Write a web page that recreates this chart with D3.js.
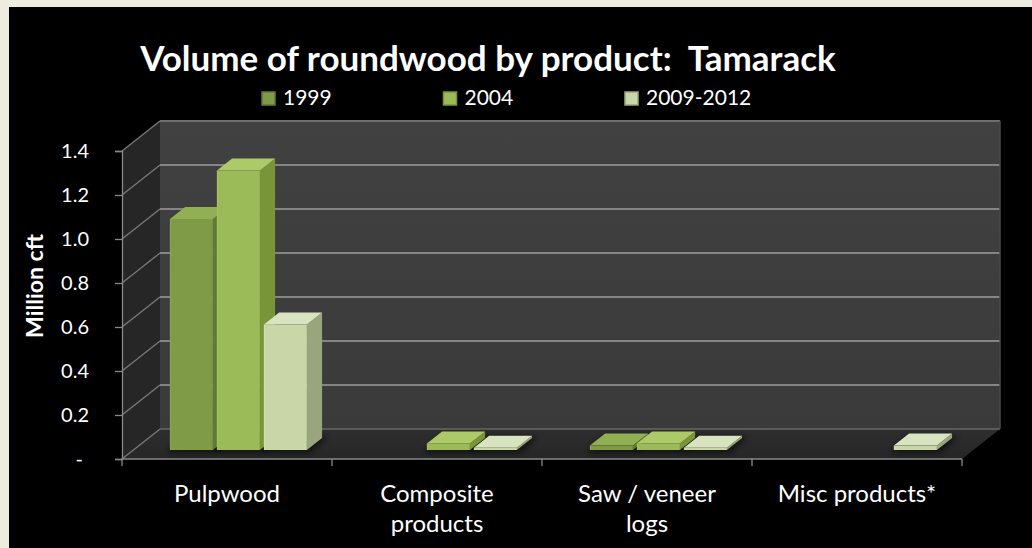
<!DOCTYPE html>
<html>
<head>
<meta charset="utf-8">
<script src="https://cdn.jsdelivr.net/npm/d3@7"></script>
<style>
  html, body { margin: 0; padding: 0; background: #eeebe0; }
  svg { display: block; }
</style>
</head>
<body>
<svg id="chart" width="1032" height="548"></svg>
<script>
// Roundwood volume (million cubic feet) for tamarack, by product and survey period
const categories = ["Pulpwood", "Composite\nproducts", "Saw / veneer\nlogs", "Misc products*"];
const seriesNames = ["1999", "2004", "2009-2012"];
const values1999 = [1.05, 0.00, 0.02, 0.00];
const values2004 = [1.27, 0.03, 0.03, 0.00];
const values2009 = [0.57, 0.01, 0.01, 0.02];
const yTicks = [0, 0.2, 0.4, 0.6, 0.8, 1.0, 1.2, 1.4];
const yTickLabels = ["-", "0.2", "0.4", "0.6", "0.8", "1.0", "1.2", "1.4"];

const seriesValues = [values1999, values2004, values2009];
const seriesColors = [
  { front: "#7f9b47", side: "#617935", top: "#91b054" },
  { front: "#9bbb59", side: "#789638", top: "#acca68" },
  { front: "#c9d7a8", side: "#98a57d", top: "#d8e3bf" }
];

const svg = d3.select("#chart");
const W = 1032, H = 548;
const FONT = "Lato, 'Open Sans', 'DejaVu Sans', sans-serif";

// black panel
svg.append("rect").attr("x", 9).attr("y", 7).attr("width", W - 9).attr("height", H - 7).attr("fill", "#000");

// Scales (front plane of the 3-D box)
const x = d3.scaleBand().domain(categories).range([122, 962]).paddingInner(0).paddingOuter(0);
const inner = d3.scaleBand().domain(seriesNames).range([0, x.bandwidth()])
  .paddingInner(0.085).paddingOuter(0.777);
const y = d3.scaleLinear().domain([0, 1.4]).range([459, 151]);

// depth of the box and where the bars sit inside it
const DX = 38, DY = -30;
const F0 = 0.3, F1 = 0.7;

const defs = svg.append("defs");
const wallGrad = defs.append("linearGradient").attr("id", "wall").attr("x1", 0).attr("y1", 0).attr("x2", 0).attr("y2", 1);
wallGrad.append("stop").attr("offset", 0).attr("stop-color", "#414141");
wallGrad.append("stop").attr("offset", 1).attr("stop-color", "#3a3a3a");
const floorGrad = defs.append("linearGradient").attr("id", "floor").attr("x1", 0).attr("y1", 0).attr("x2", 0).attr("y2", 1);
floorGrad.append("stop").attr("offset", 0).attr("stop-color", "#2e2e2e");
floorGrad.append("stop").attr("offset", 1).attr("stop-color", "#262626");
const shadow = defs.append("filter").attr("id", "shadow").attr("x", "-30%").attr("y", "-60%").attr("width", "160%").attr("height", "220%");
shadow.append("feGaussianBlur").attr("stdDeviation", 3);

const x0 = x.range()[0], x1 = x.range()[1];
const yTop = y(1.4), yBase = y(0);
const pts = a => a.map(p => p.join(",")).join(" ");

// back wall
svg.append("polygon")
  .attr("points", pts([[x0 + DX, yTop + DY], [x1 + DX, yTop + DY], [x1 + DX, yBase + DY], [x0 + DX, yBase + DY]]))
  .attr("fill", "url(#wall)");
// side wall
svg.append("polygon")
  .attr("points", pts([[x0, yTop], [x0 + DX, yTop + DY], [x0 + DX, yBase + DY], [x0, yBase]]))
  .attr("fill", "#262626");
// floor
svg.append("polygon")
  .attr("points", pts([[x0, yBase], [x1, yBase], [x1 + DX, yBase + DY], [x0 + DX, yBase + DY]]))
  .attr("fill", "url(#floor)");

// gridlines on back and side walls
const grid = svg.append("g").attr("stroke-width", 2).attr("fill", "none");
yTicks.forEach(v => {
  grid.append("line")
    .attr("x1", x0 + DX).attr("x2", x1 + DX)
    .attr("y1", y(v) + DY).attr("y2", y(v) + DY)
    .attr("stroke", v === 0 ? "#5a5a5a" : (v === 1.4 ? "#6e6e6e" : "#858585"));
  grid.append("line")
    .attr("x1", x0).attr("x2", x0 + DX)
    .attr("y1", y(v)).attr("y2", y(v) + DY)
    .attr("stroke", "#7a7a7a").attr("stroke-width", 1.3);
});
// right edge of the back wall
svg.append("line").attr("x1", x1 + DX).attr("x2", x1 + DX).attr("y1", yTop + DY).attr("y2", yBase + DY)
  .attr("stroke", "#4a4a4a").attr("stroke-width", 1.5);

// bars
const bars = [];
categories.forEach((cat, ci) => {
  seriesNames.forEach((s, si) => {
    const v = seriesValues[si][ci];
    if (v > 0) bars.push({ cat, s, si, v });
  });
});

const shadows = svg.append("g").attr("filter", "url(#shadow)");
bars.forEach(b => {
  const bx = x(b.cat) + inner(b.s), bw = inner.bandwidth();
  shadows.append("polygon")
    .attr("points", pts([
      [bx + F0 * DX - 4, yBase + F0 * DY + 3], [bx + bw + F0 * DX + 4, yBase + F0 * DY + 3],
      [bx + bw + F1 * DX + 6, yBase + F1 * DY - 2], [bx + F1 * DX - 2, yBase + F1 * DY - 2]]))
    .attr("fill", "#000").attr("opacity", 0.55);
});

const barG = svg.append("g");
bars.forEach(b => {
  const c = seriesColors[b.si];
  const bx = x(b.cat) + inner(b.s), bw = inner.bandwidth();
  const fx0 = bx + F0 * DX, fx1 = bx + bw + F0 * DX;
  const ft = y(b.v) + F0 * DY, fb = yBase + F0 * DY;
  const ddx = (F1 - F0) * DX, ddy = (F1 - F0) * DY;
  const g = barG.append("g");
  // side face
  g.append("polygon").attr("points", pts([[fx1, ft], [fx1 + ddx, ft + ddy], [fx1 + ddx, fb + ddy], [fx1, fb]]))
    .attr("fill", c.side);
  // top face
  g.append("polygon").attr("points", pts([[fx0, ft], [fx1, ft], [fx1 + ddx, ft + ddy], [fx0 + ddx, ft + ddy]]))
    .attr("fill", c.top);
  // front face
  g.append("rect").attr("x", fx0).attr("y", ft).attr("width", fx1 - fx0).attr("height", fb - ft)
    .attr("fill", c.front);
  g.append("line").attr("x1", fx0 + 0.5).attr("x2", fx0 + 0.5).attr("y1", ft).attr("y2", fb)
    .attr("stroke", c.top).attr("stroke-opacity", 0.6);
});

// value axis on the front plane
const yAxis = svg.append("g").attr("transform", `translate(${x0},0)`)
  .call(d3.axisLeft(y).tickValues(yTicks).tickFormat((d, i) => yTickLabels[i]).tickSize(7).tickPadding(26));
yAxis.select(".domain").attr("stroke", "#8a8a8a").attr("stroke-width", 1.3);
yAxis.selectAll(".tick line").attr("stroke", "#8a8a8a").attr("stroke-width", 1.3);
yAxis.selectAll(".tick text")
  .attr("fill", "#fff").attr("font-family", FONT).attr("font-size", 20)
  .attr("dx", (d, i) => yTickLabels[i] === "-" ? -6 : 0);

// category axis on the front plane, ticks at category boundaries
const xAxis = svg.append("g");
xAxis.append("line").attr("x1", x0).attr("x2", x1).attr("y1", yBase).attr("y2", yBase)
  .attr("stroke", "#8a8a8a").attr("stroke-width", 1.5);
categories.map(c => x(c)).concat([x1]).forEach(tx => {
  xAxis.append("line").attr("x1", tx).attr("x2", tx).attr("y1", yBase).attr("y2", yBase + 7)
    .attr("stroke", "#8a8a8a").attr("stroke-width", 1.3);
});
categories.forEach(c => {
  const t = xAxis.append("text")
    .attr("x", x(c) + x.bandwidth() / 2).attr("y", 502)
    .attr("text-anchor", "middle").attr("fill", "#fff")
    .attr("font-family", FONT).attr("font-size", 24);
  c.split("\n").forEach((line, li) => {
    t.append("tspan").attr("x", x(c) + x.bandwidth() / 2).attr("dy", li === 0 ? 0 : 30).text(line);
  });
});

// axis title
svg.append("text")
  .attr("transform", "translate(43,286) rotate(-90)")
  .attr("text-anchor", "middle").attr("fill", "#fff")
  .attr("font-family", FONT).attr("font-weight", 700).attr("font-size", 23)
  .text("Million cft");

// chart title
svg.append("text")
  .attr("x", 488).attr("y", 71).attr("text-anchor", "middle").attr("fill", "#fff")
  .attr("font-family", FONT).attr("font-weight", 700).attr("font-size", 35)
  .attr("xml:space", "preserve")
  .text("Volume of roundwood by product:  Tamarack");

// legend
const legend = svg.append("g");
seriesNames.forEach((s, i) => {
  const lx = 262 + i * 181.5;
  legend.append("rect").attr("x", lx).attr("y", 92).attr("width", 13).attr("height", 13)
    .attr("fill", seriesColors[i].front).attr("stroke", seriesColors[i].side).attr("stroke-width", 1.5);
  legend.append("text").attr("x", lx + 21).attr("y", 105)
    .attr("fill", "#fff").attr("font-family", FONT).attr("font-size", 21).text(s);
});
</script>
</body>
</html>
